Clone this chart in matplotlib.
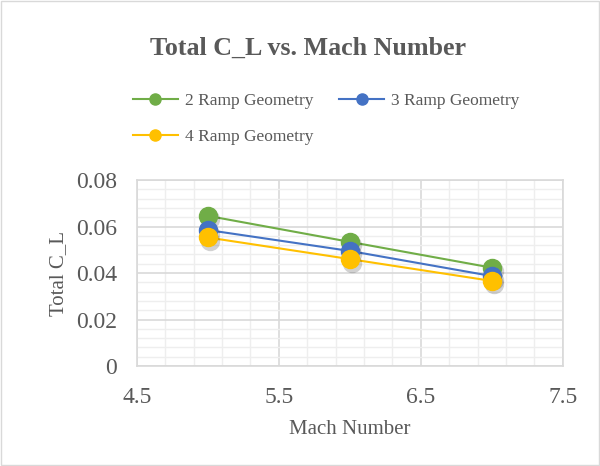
import matplotlib
matplotlib.use("Agg")
import matplotlib.pyplot as plt
from matplotlib.ticker import MultipleLocator
from matplotlib.transforms import ScaledTranslation

mach = [5, 6, 7]
cl_2ramp = [0.0646, 0.0534, 0.0423]
cl_3ramp = [0.0585, 0.0495, 0.0387]
cl_4ramp = [0.0553, 0.0460, 0.0366]
series_names = ["2 Ramp Geometry", "3 Ramp Geometry", "4 Ramp Geometry"]
colors = ["#70ad47", "#4472c4", "#ffc000"]

plt.rcParams['font.family'] = ['Liberation Serif', 'DejaVu Serif']
txt = '#595959'

fig = plt.figure(figsize=(6, 4.66), dpi=100)
ax = fig.add_axes([0.228, 0.2146, 0.71, 0.399])

# soft drop shadow under the markers
shift = ax.transData + ScaledTranslation(1.5 / 72, -2.5 / 72, fig.dpi_scale_trans)
handles = []
for vals, name, c in zip([cl_2ramp, cl_3ramp, cl_4ramp], series_names, colors):
    ax.plot(mach, vals, color=c, lw=1.5)
    ax.plot(mach, vals, ls='none', marker='o', markersize=14, color='black',
            alpha=0.18, markeredgewidth=0, transform=shift)
    ax.plot(mach, vals, ls='none', marker='o', markersize=13, color=c, markeredgecolor=c)
    h, = ax.plot([], [], color=c, lw=1.5, marker='o', markersize=8, label=name)
    handles.append(h)

ax.set_xlim(4.5, 7.5)
ax.set_ylim(0, 0.08)
ax.xaxis.set_major_locator(MultipleLocator(1.0, offset=0.5))
ax.xaxis.set_minor_locator(MultipleLocator(0.2, offset=0.1))
ax.yaxis.set_major_locator(MultipleLocator(0.02))
ax.yaxis.set_minor_locator(MultipleLocator(0.004))
ax.xaxis.set_major_formatter(plt.FuncFormatter(lambda v, p: f"{v:g}"))
ax.yaxis.set_major_formatter(plt.FuncFormatter(lambda v, p: f"{v:g}"))
ax.grid(which='major', color='#d9d9d9', lw=1.2)
ax.grid(which='minor', color='#eeeeee', lw=1.0)
ax.set_axisbelow(True)
for s in ax.spines.values():
    s.set_color('#d9d9d9')
    s.set_linewidth(1.2)
ax.tick_params(which='both', length=0, labelsize=17, colors=txt)
ax.tick_params(axis='x', pad=15)
ax.tick_params(axis='y', pad=14)

ax.set_xlabel("Mach Number", fontsize=15, color=txt, labelpad=9)
ax.set_ylabel("Total C_L", fontsize=15, color=txt, labelpad=6)

fig.text(0.513, 0.897, "Total C_L vs. Mach Number", ha='center', va='center',
         fontsize=18.7, fontweight='bold', color=txt)

# Excel fills rows first: reorder so row 1 = 2 & 3 ramp, row 2 = 4 ramp
leg = fig.legend(handles=[handles[0], handles[2], handles[1]], ncol=2, loc='upper left',
                 bbox_to_anchor=(0.195, 0.835), frameon=False, fontsize=12.5,
                 handlelength=2.6, columnspacing=1.5,
                 labelspacing=1.15, handletextpad=0.4)
for t in leg.get_texts():
    t.set_color(txt)

fig.patches.append(plt.Rectangle((0.002, 0.002), 0.996, 0.996, transform=fig.transFigure,
                                 fill=False, edgecolor='#d9d9d9', lw=1))

fig.savefig("out.png", dpi=100)
